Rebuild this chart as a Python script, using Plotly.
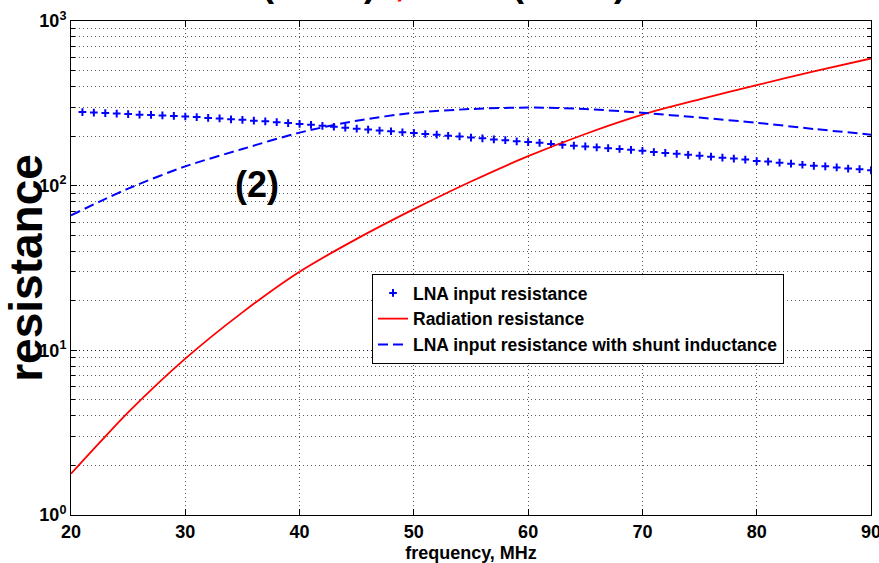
import plotly.graph_objects as go

# ---------------- data ----------------
freq_lna = list(range(21, 91))
r_lna = [280, 278, 276, 274, 272, 270, 269, 267, 265, 263,
         261, 258, 256, 253, 251, 248, 246, 243, 240, 237,
         234, 231, 228, 225, 222, 219, 216, 214, 211, 209,
         206, 204, 201, 199, 196, 194, 191, 189, 186, 184,
         182, 179, 177, 175, 173, 171, 169, 167, 165, 163,
         160, 158, 156, 154, 152, 150, 148, 146, 144, 141,
         140, 138, 136, 134, 132, 131, 129, 127, 126, 124]

freq_curve = [20, 22.5, 25, 30, 35, 40, 45, 50, 55, 60, 65, 70, 75, 80, 85, 90]
r_rad = [1.78, 2.75, 4.2, 8.9, 17.0, 30, 47.5, 72, 106, 151, 206, 270, 334, 408, 494, 592]
r_shunt = [66, 80, 96, 131, 167, 210, 248, 277, 292, 298, 292, 277, 259, 241, 221, 204]

legend_names = ["LNA input resistance", "Radiation resistance",
                "LNA input resistance with shunt inductance"]

x_ticks = [20, 30, 40, 50, 60, 70, 80, 90]
y_tickvals = [1, 10, 100, 1000]
y_ticktext = ["10<sup>0</sup>", "10<sup>1</sup>", "10<sup>2</sup>", "10<sup>3</sup>"]

x_title = "frequency, MHz"
y_title = "resistance"
curve_label = "(2)"
title_fragments = ["(", ")", ",", "(", ")"]
title_colors = ["black", "black", "red", "black", "black"]

# ---------------- figure ----------------
FONT = "Liberation Sans, Arial, Helvetica, sans-serif"
W, H = 879, 563
L, R, T, B = 71, 8, 21, 48

fig = go.Figure()
fig.add_trace(go.Scatter(
    x=freq_lna, y=r_lna, mode="markers", name=legend_names[0],
    marker=dict(symbol="cross-thin", size=5.5, color="#0000ff",
                line=dict(width=2, color="#0000ff"))))
fig.add_trace(go.Scatter(
    x=freq_curve, y=r_rad, mode="lines", name=legend_names[1],
    line=dict(color="#ff0000", width=1.8, shape="spline", smoothing=0.8)))
fig.add_trace(go.Scatter(
    x=freq_curve, y=r_shunt, mode="lines", name=legend_names[2],
    line=dict(color="#0000ff", width=2, dash="10px,5px", shape="spline", smoothing=0.8)))

grid_dash = "1px,3px"
grid_col = "rgba(0,0,0,0.65)"

fig.update_xaxes(
    range=[20, 90], tickvals=x_ticks, ticktext=[str(v) for v in x_ticks],
    ticklabeloverflow="allow", automargin=False,
    showgrid=True, gridcolor=grid_col, griddash=grid_dash, gridwidth=1,
    showline=True, linecolor="black", linewidth=1, mirror="allticks",
    ticks="inside", ticklen=6, tickcolor="black",
    tickfont=dict(family=FONT, size=18, color="black", weight="bold"),
    title=dict(text=x_title, font=dict(family=FONT, size=18, color="black", weight="bold")),
    zeroline=False,
)
fig.update_yaxes(
    type="log", range=[0, 3], tickvals=y_tickvals, ticktext=y_ticktext,
    ticklabeloverflow="allow", automargin=False,
    showgrid=True, gridcolor=grid_col, griddash=grid_dash, gridwidth=1,
    minor=dict(dtick="D1", showgrid=True, gridcolor=grid_col, griddash=grid_dash,
               ticks="inside", ticklen=4, tickcolor="black"),
    showline=True, linecolor="black", linewidth=1, mirror="allticks",
    ticks="inside", ticklen=6, tickcolor="black",
    tickfont=dict(family=FONT, size=18, color="black", weight="bold"),
    title=dict(text=y_title, font=dict(family=FONT, size=46, color="black", weight="bold")),
    zeroline=False,
)

annotations = [dict(
    x=36.3, y=2.01, xref="x", yref="y", text=curve_label, showarrow=False,
    font=dict(family=FONT, size=36, color="black", weight="bold"),
    xanchor="center", yanchor="middle")]
frag_px = [268, 370, 400, 518, 620]
for txt, col, px in zip(title_fragments, title_colors, frag_px):
    annotations.append(dict(
        x=(px - L) / (W - L - R), y=(H - B + 16.5) / (H - T - B),
        xref="paper", yref="paper", text=txt, showarrow=False,
        font=dict(family=FONT, size=36, color=col, weight="bold"),
        xanchor="center", yanchor="middle"))

fig.update_layout(
    width=W, height=H, autosize=False,
    margin=dict(l=L, r=R, t=T, b=B, autoexpand=False),
    paper_bgcolor="white", plot_bgcolor="white",
    showlegend=True,
    legend=dict(x=(372 - L) / (W - L - R), y=(H - B - 274) / (H - T - B),
                xanchor="left", yanchor="top",
                bgcolor="white", bordercolor="black", borderwidth=1,
                font=dict(family=FONT, size=17.5, color="black", weight="bold")),
    annotations=annotations,
)

fig.write_html("out.html")
